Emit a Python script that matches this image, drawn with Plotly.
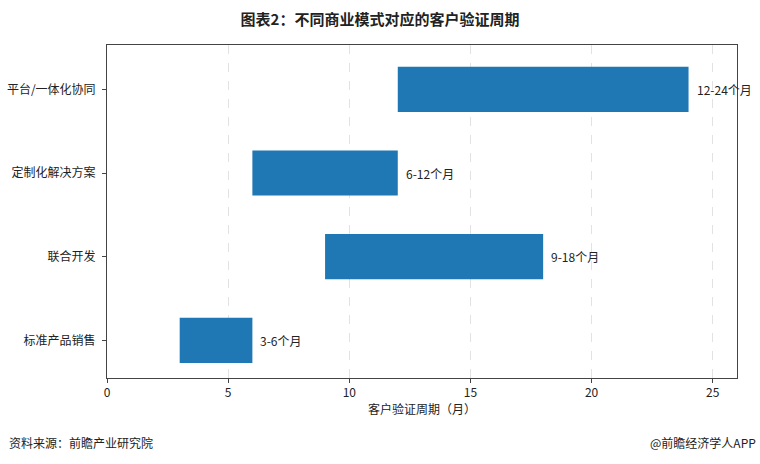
import plotly.graph_objects as go

categories = ["标准产品销售", "联合开发", "定制化解决方案", "平台/一体化协同"]
start_months = [3, 9, 6, 12]
end_months = [6, 18, 12, 24]
labels = ["3-6个月", "9-18个月", "6-12个月", "12-24个月"]
x_ticks = [0, 5, 10, 15, 20, 25]

durations = [e - s for s, e in zip(start_months, end_months)]

FONT = "Noto Sans CJK SC"

fig = go.Figure()
fig.add_trace(go.Bar(
    y=categories,
    x=durations,
    base=start_months,
    orientation="h",
    width=0.54,
    marker=dict(color="#1f77b4", line=dict(width=0)),
    hoverinfo="skip",
))

annotations = []
for cat, end, lab in zip(categories, end_months, labels):
    annotations.append(dict(
        x=end, y=cat, xref="x", yref="y", text=lab, showarrow=False,
        xanchor="left", yanchor="middle", xshift=6,
        font=dict(family=FONT, size=12, color="#222222"),
    ))

annotations += [
    dict(text="资料来源：前瞻产业研究院", xref="paper", yref="paper",
         x=-107/630 + 7/630, y=-64/333, xanchor="left", yanchor="middle",
         showarrow=False, font=dict(family=FONT, size=12, color="#222222")),
    dict(text="@前瞻经济学人APP", xref="paper", yref="paper",
         x=1 + 21/630, y=-64/333, xanchor="right", yanchor="middle",
         showarrow=False, font=dict(family=FONT, size=12, color="#222222")),
]

fig.update_layout(
    width=760, height=464,
    margin=dict(l=107, r=23, t=45, b=86),
    paper_bgcolor="white",
    plot_bgcolor="white",
    showlegend=False,
    font=dict(family=FONT, size=12, color="#222222"),
    title=dict(
        text="<b>图表2：不同商业模式对应的客户验证周期</b>",
        x=0.5, xanchor="center", y=0.957, yanchor="middle",
        font=dict(family=FONT, size=15, color="#222222"),
    ),
    xaxis=dict(
        range=[0, 26],
        tickvals=x_ticks,
        automargin=False,
        ticks="outside", ticklen=4, tickcolor="#444444",
        showgrid=True, gridcolor="#e2e2e2", griddash="dash", gridwidth=1,
        zeroline=False,
        showline=True, linecolor="#444444", linewidth=1, mirror=True,
        tickfont=dict(size=12, color="#222222"),
        title=dict(text="客户验证周期（月）", font=dict(size=12, color="#222222"), standoff=2),
    ),
    yaxis=dict(
        range=[-0.45, 3.53],
        automargin=False,
        ticks="outside", ticklen=4, tickcolor="#444444",
        showgrid=False, zeroline=False,
        showline=True, linecolor="#444444", linewidth=1, mirror=True,
        tickfont=dict(size=12, color="#222222"),
        ticklabelstandoff=4,
    ),
    annotations=annotations,
)

fig.write_html("out.html")
